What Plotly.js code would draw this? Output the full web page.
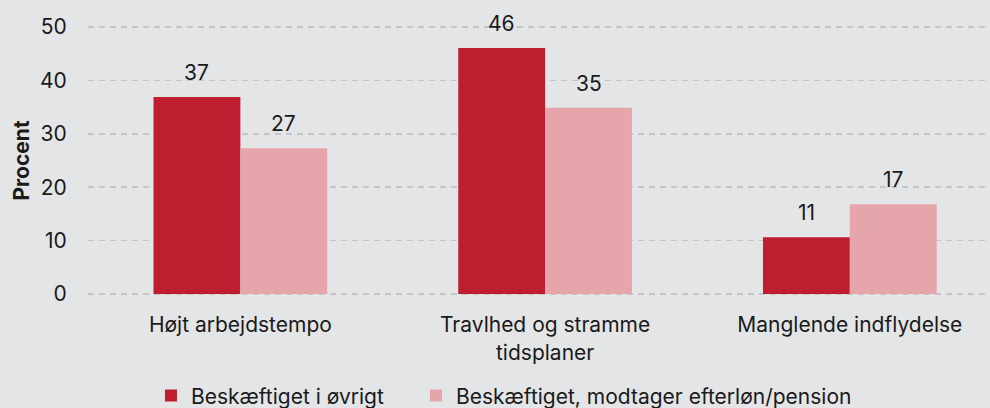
<!DOCTYPE html>
<html><head><meta charset="utf-8">
<script src="https://cdn.plot.ly/plotly-3.0.1.min.js"></script>
<style>html,body{margin:0;padding:0;background:#e4e5e7}</style>
</head><body>
<div id="chart" style="width:990px;height:408px"></div>
<script>
const categories = ["Højt arbejdstempo", "Travlhed og stramme<br>tidsplaner", "Manglende indflydelse"];
const seriesNames = ["Beskæftiget i øvrigt", "Beskæftiget, modtager efterløn/pension"];
const valuesOther = [36.9, 46.1, 10.6];
const valuesPension = [27.3, 34.9, 16.8];
const labelsOther = ["37", "46", "11"];
const labelsPension = ["27", "35", "17"];
const colors = ["#be1e2f", "#e6a5aa"];

const font = "Inter, 'Noto Sans', sans-serif";
const traces = [
  {type:'bar', name:seriesNames[0], x:categories, y:valuesOther, marker:{color:colors[0]}, hoverinfo:'skip', legend:'legend'},
  {type:'bar', name:seriesNames[1], x:categories, y:valuesPension, marker:{color:colors[1]}, hoverinfo:'skip', legend:'legend2'}
];
const annotations = [];
[[valuesOther, labelsOther, -43.5], [valuesPension, labelsPension, 43.5]].forEach(([vals, labs, dx]) => {
  vals.forEach((v, i) => annotations.push({
    x: categories[i], y: v, xref:'x', yref:'y', text: labs[i], showarrow:false,
    xshift: dx, yshift: 10, yanchor:'bottom', font:{family:font, size:21, color:'#1a1a1a'}
  }));
});
const legendBase = {orientation:'h', yref:'container', y:0.03, yanchor:'middle', xanchor:'left',
  font:{family:font, size:21, color:'#1a1a1a'}, bgcolor:'rgba(0,0,0,0)', borderwidth:0};
const layout = {
  width:990, height:408,
  paper_bgcolor:'#e4e5e7', plot_bgcolor:'#e4e5e7',
  margin:{l:88, r:0, t:26, b:113, autoexpand:false},
  barmode:'group', bargap:0.43, bargroupgap:0,
  font:{family:font, size:21, color:'#1a1a1a'},
  xaxis:{type:'category', range:[-0.5, 2.46], showgrid:false, zeroline:false, showline:false,
    ticks:'outside', ticklen:11, tickcolor:'rgba(0,0,0,0)', tickfont:{size:21}},
  yaxis:{range:[-0.2, 50.2], tickvals:[0,10,20,30,40,50], showgrid:true, gridcolor:'#c4c5c7', gridwidth:1.5,
    griddash:'6px,5px', zeroline:false, showline:false,
    ticks:'outside', ticklen:16, tickcolor:'rgba(0,0,0,0)', tickfont:{size:21},
    title:{text:'<b>Procent</b>', font:{size:21}, standoff:4}},
  showlegend:true,
  legend:Object.assign({}, legendBase, {x:0.0698}),
  legend2:Object.assign({}, legendBase, {x:0.3636}),
  annotations: annotations
};
Plotly.newPlot('chart', traces, layout, {displayModeBar:false, staticPlot:true});
</script>
</body></html>
